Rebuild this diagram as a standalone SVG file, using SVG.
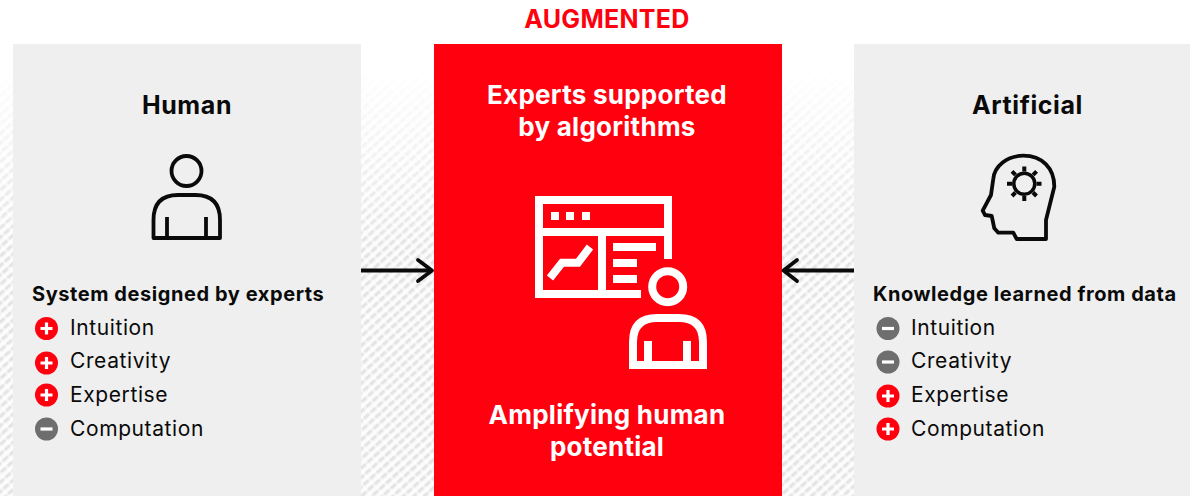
<svg xmlns="http://www.w3.org/2000/svg" width="1190" height="496" viewBox="0 0 1190 496">
<style>
text{font-family:Inter,"Noto Sans",sans-serif;fill:#0a0a0a}
.title{font-size:25px;font-weight:700;text-anchor:middle;letter-spacing:.6px}
.sub{font-size:20px;font-weight:700;letter-spacing:.57px}
.item{font-size:21px;font-weight:400;letter-spacing:.6px}
.wt{font-size:26px;font-weight:700;text-anchor:middle;fill:#fff;letter-spacing:.25px}
.panel{fill:#efefef}
.k{fill:none;stroke:#0a0a0a;stroke-width:3.8;stroke-linejoin:round}
.w{fill:none;stroke:#fff;stroke-width:8}
.pb{fill:#ff000f}.mb{fill:#6e6e6e}
.sign{stroke:#fff;stroke-width:3.2;fill:none}
.conn{stroke:#0a0a0a;stroke-width:3.8;fill:none;stroke-linecap:round;stroke-linejoin:round}
</style>
<defs>
<pattern id="tex" width="7" height="7" patternUnits="userSpaceOnUse" patternTransform="rotate(-42)">
<rect width="7" height="7" fill="#fbfbfb"/>
<rect width="7" height="3.200" fill="#e4e4e4"/>
</pattern>
<pattern id="tex2" width="9" height="9" patternUnits="userSpaceOnUse" patternTransform="rotate(48)">
<rect width="9" height="3" fill="#ffffff" opacity="0.5"/>
</pattern>
<filter id="soft" x="0" y="0" width="1" height="1"><feGaussianBlur stdDeviation="0.7"/></filter>
<linearGradient id="fade" gradientUnits="userSpaceOnUse" x1="0" y1="70" x2="0" y2="250">
<stop offset="0" stop-color="#fff" stop-opacity="1"/><stop offset="1" stop-color="#fff" stop-opacity="0"/>
</linearGradient>
<g id="plus"><circle r="11.5" class="pb"/><path class="sign" d="M-6 0H6M0-6V6"/></g>
<g id="minus"><circle r="11.5" class="mb"/><path class="sign" d="M-6 0H6"/></g>
</defs>
<rect width="1190" height="496" fill="#fff"/>
<g id="background">
<g filter="url(#soft)">
<rect x="0" y="40" width="870" height="456" fill="url(#tex)"/>
<rect x="0" y="40" width="870" height="456" fill="url(#tex2)"/>
</g>
<rect x="0" y="0" width="870" height="70" fill="#fff"/>
<rect x="0" y="70" width="870" height="180" fill="url(#fade)"/>
</g>
<g id="human">
<rect class="panel" x="13" y="44" width="348" height="452"/>
<text class="title" x="187" y="114">Human</text>
<circle class="k" cx="186.500" cy="171" r="15"/>
<path class="k" d="M153.500 238V220Q153.500 195 178 195H195.500Q220 195 220 220V238ZM167 238V217M206 238V217"/>
<text class="sub" x="32" y="301">System designed by experts</text>
<use href="#plus" x="46.500" y="328.500"/><text class="item" x="70" y="335">Intuition</text>
<use href="#plus" x="46.500" y="363"/><text class="item" x="70" y="368">Creativity</text>
<use href="#plus" x="46.500" y="395"/><text class="item" x="70" y="402">Expertise</text>
<use href="#minus" x="46.500" y="429"/><text class="item" x="70" y="436">Computation</text>
</g>
<g id="augmented">
<text x="607" y="28" text-anchor="middle" style="font-size:25px;font-weight:700;fill:#ff000f;letter-spacing:.3px">AUGMENTED</text>
<rect x="434" y="44" width="348" height="452" fill="#ff000f"/>
<text class="wt" x="607" y="104">Experts supported</text>
<text class="wt" x="607" y="136">by algorithms</text>
<path class="w" d="M668 259V200H539V294H641M539 232H668M602 232V294M550 278L562 262.700H578L590 247"/>
<path fill="#fff" d="M551 212h8v8h-8zM566 212h8v8h-8zM582 212h8v8h-8zM613 243h43v8h-43zM613 259h24v8h-24zM613 275h24v8h-24z"/>
<circle class="w" cx="667.700" cy="286.700" r="15.500"/>
<path class="w" d="M633 365V342Q633 318 657 318H679Q703 318 703 342V365ZM648 365V341M687 365V341"/>
<text class="wt" x="607" y="424">Amplifying human</text>
<text class="wt" x="607" y="456">potential</text>
</g>
<g id="artificial">
<rect class="panel" x="854" y="44" width="336" height="452"/>
<text class="title" x="1027.500" y="114">Artificial</text>
<path class="k" d="M1046 239V220L1054.300 186.700C1054.300 168 1042 155.700 1023.300 155.700C1007 155.700 994.500 166 993.300 178.700L991 195L982.700 210.700L985 215L991.700 216L994.300 228.300L998.300 232.700H1013.300L1016.700 239Z"/>
<circle cx="1024.300" cy="183.700" r="10.500" fill="none" stroke="#0a0a0a" stroke-width="3.500"/>
<path d="M1024.300 166.500v5M1024.300 196v5M1007 183.700h5M1036.500 183.700h5M1012 171.400l3.500 3.500M1033 192.500l3.500 3.500M1036.600 171.400l-3.500 3.500M1015.500 192.500l-3.500 3.500" fill="none" stroke="#0a0a0a" stroke-width="4"/>
<text class="sub" x="873" y="301">Knowledge learned from data</text>
<use href="#minus" x="888" y="328.500"/><text class="item" x="911" y="335">Intuition</text>
<use href="#minus" x="888" y="362"/><text class="item" x="911" y="368">Creativity</text>
<use href="#plus" x="888" y="396"/><text class="item" x="911" y="402">Expertise</text>
<use href="#plus" x="888" y="429"/><text class="item" x="911" y="436">Computation</text>
</g>
<g id="connectors">
<path class="conn" style="stroke-linecap:butt" d="M361 270.500H431"/>
<path class="conn" d="M418 260L432 270.500L418 281"/>
<path class="conn" style="stroke-linecap:butt" d="M854 270.500H785"/>
<path class="conn" d="M797 260L783.500 270.500L797 281"/>
</g>
</svg>
